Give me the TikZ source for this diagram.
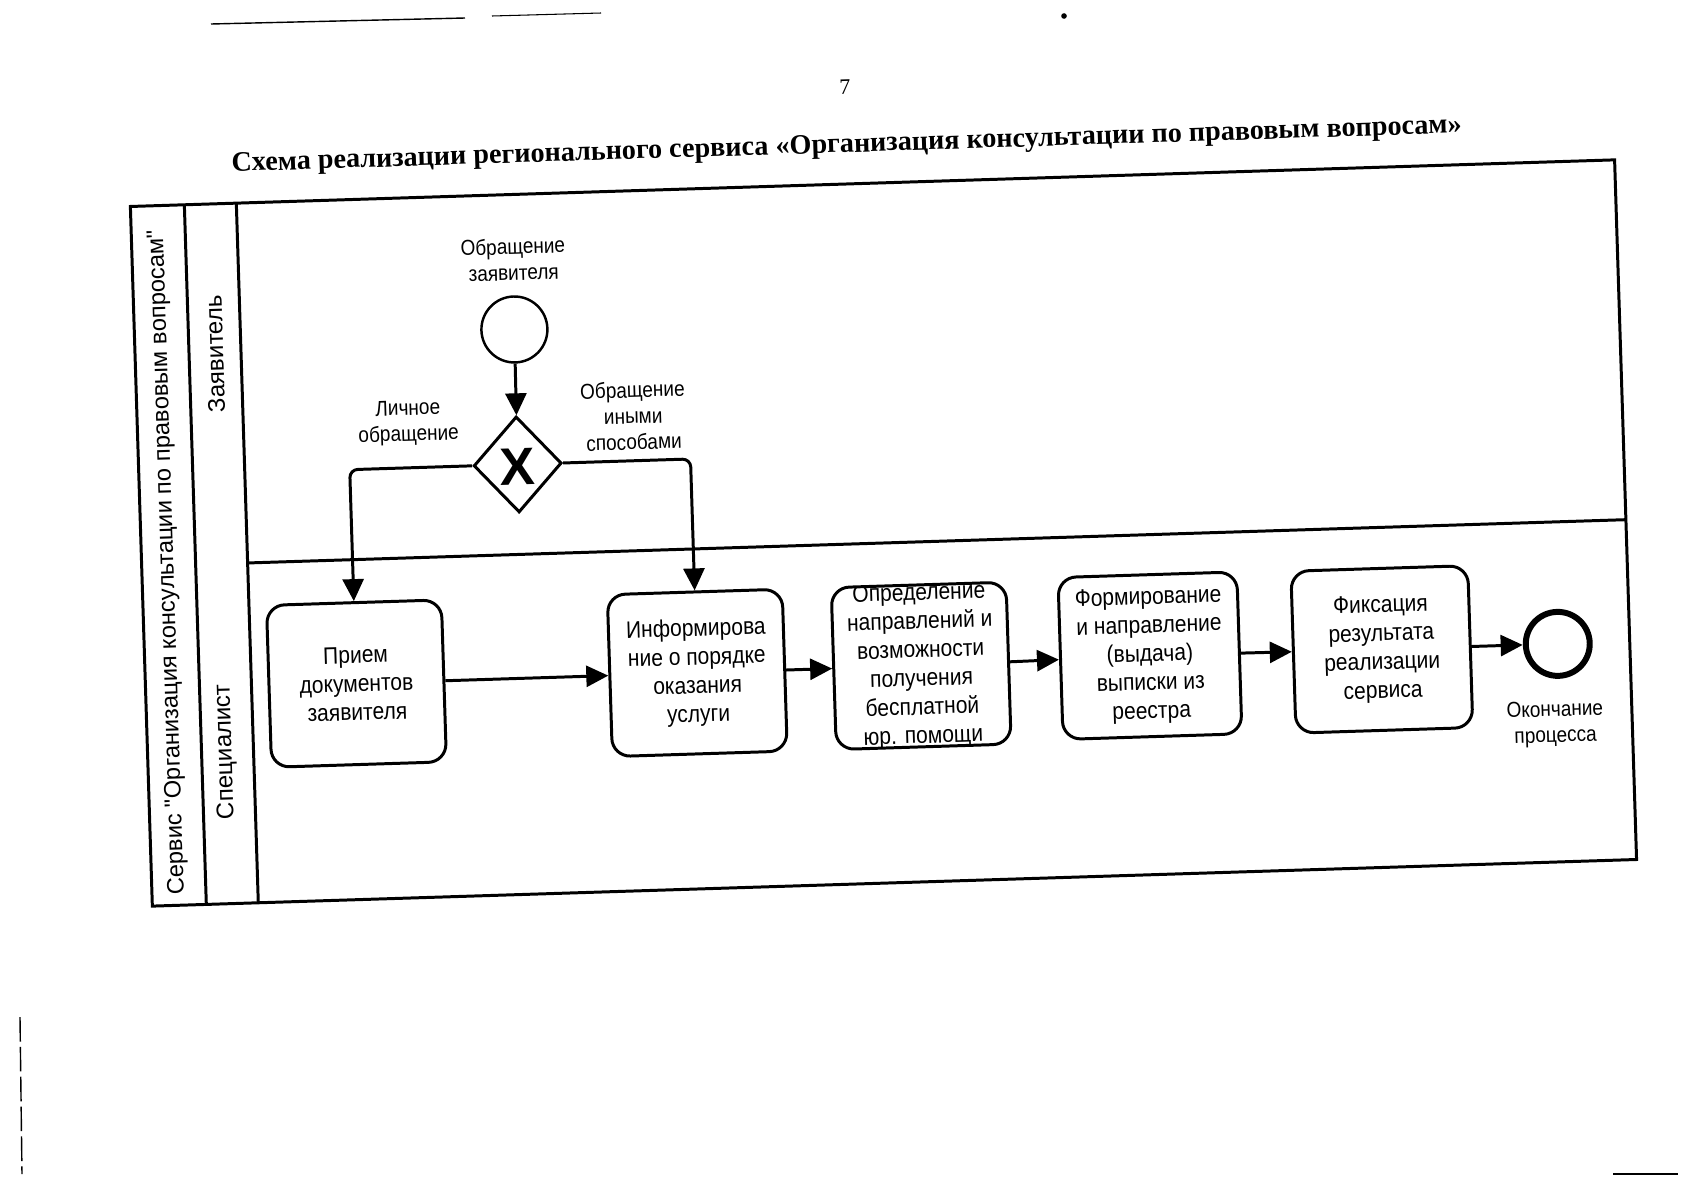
\documentclass[tikz,border=0pt]{standalone}
\usepackage{graphicx}
\usepackage{fontspec}
\setmainfont{Liberation Serif}
\newfontfamily\sansf{Liberation Sans}
\newfontfamily\narrowf[FakeStretch=0.88]{Liberation Sans}
\usetikzlibrary{arrows.meta,shapes.geometric}
\begin{document}
\begin{tikzpicture}[x=0.02cm,y=-0.02cm,
  frameline/.style={line width=1.7pt},
  task/.style={draw, line width=1.7pt, rounded corners=0.36cm, minimum width=3.5cm, minimum height=3.24cm, inner sep=0pt, align=center, font={\narrowf\fontsize{13.6}{16.3}\selectfont}},
  lbl/.style={align=center, inner sep=0pt, font={\narrowf\fontsize{12.3}{14.8}\selectfont}},
  flow/.style={line width=1.7pt, rounded corners=0.16cm, -{Triangle[length=0.44cm,width=0.42cm]}},
  lanelbl/.style={rotate=90, inner sep=0pt, font={\sansf\fontsize{13.7}{16}\selectfont}},
  scanline/.style={line width=0.8pt}
]
\fill[white] (0,0) rectangle (1697,1200);
\useasboundingbox (0,0) rectangle (1697,1200);

% scan marks
\draw[scanline] (211,24) -- (465,18);
\draw[scanline, line width=0.6pt] (492,16) -- (601,13);
\fill (1064,16) circle[radius=1.6pt];
\draw[scanline, dash pattern=on 14pt off 3pt] (20,1017) -- (22,1174);
\draw[scanline] (1613,1174) -- (1678,1174);

\begin{scope}[rotate around={1.8:(883,534)}, transform shape]
  \node (pnum) at (859,86) {\fontsize{12.6}{14}\selectfont 7};
  \node (title) at (859,145) {\resizebox{24.62cm}{!}{\bfseries Схема реализации регионального сервиса «Организация консультации по правовым вопросам»}};

  % pool and lanes
  \draw[frameline] (141,183) rectangle (1626,883);
  \draw[frameline] (195,183) -- (195,883);
  \draw[frameline] (247,183) -- (247,883);
  \draw[frameline] (247,543) -- (1626,543);

  \node[lanelbl, font={\sansf\fontsize{13.5}{16}\selectfont}] (pool) at (167,540) {Сервис "Организация консультации по правовым вопросам"};
  \node[lanelbl] (lz) at (221,333) {Заявитель};
  \node[lanelbl] (ls) at (219,731) {Специалист};

  % events and gateway
  \node[lbl] (startlbl) at (522,248) {Обращение\\заявителя};
  \node[draw, circle, line width=1.4pt, minimum size=1.32cm, inner sep=0pt] (start) at (521,318) {};
  \node[draw, diamond, line width=1.7pt, minimum width=1.76cm, minimum height=1.92cm, inner sep=0pt] (gate) at (520,453) {};
  \node[inner sep=0pt, font={\sansf\bfseries\fontsize{30}{30}\selectfont}] (gx) at (520,455) {X};
  \node[lbl] (lpers) at (412,408) {Личное\\обращение};
  \node[lbl] (lother) at (637,408) {Обращение\\иными\\способами};

  % tasks
  \node[task] (b1) at (352,667) {Прием\\документов\\заявителя};
  \node[task] (b2) at (693,667) {Информирова\\ние о порядке\\оказания\\услуги};
  \node[task, path picture={\node[draw=none, fill=none, inner sep=0pt, align=center, font={\narrowf\fontsize{13.6}{16.3}\selectfont}] (b3t) at (path picture bounding box.center) {Определение\\направлений и\\возможности\\получения\\бесплатной\\юр. помощи};}] (b3) at (917,667) {};
  \node[task, minimum width=3.58cm] (b4) at (1146,664) {Формирование\\и направление\\(выдача)\\выписки из\\реестра};
  \node[task, minimum width=3.54cm] (b5) at (1378,665) {Фиксация\\результата\\реализации\\сервиса};

  \node[draw, circle, line width=3.4pt, minimum size=1.28cm, inner sep=0pt] (end) at (1554,665) {};
  \node[lbl] (endlbl) at (1549,745) {Окончание\\процесса};

  % flows
  \draw[flow] (start) -- (gate);
  \draw[flow] (gate.west) -| (b1.north);
  \draw[flow] (gate.east) -| (b2.north);
  \draw[flow] (b1) -- (b2);
  \draw[flow] (b2) -- (b3);
  \draw[flow] (b3) -- (b4);
  \draw[flow] (b4) -- (b5);
  \draw[flow] (b5) -- (end);
\end{scope}
\end{tikzpicture}
\end{document}
